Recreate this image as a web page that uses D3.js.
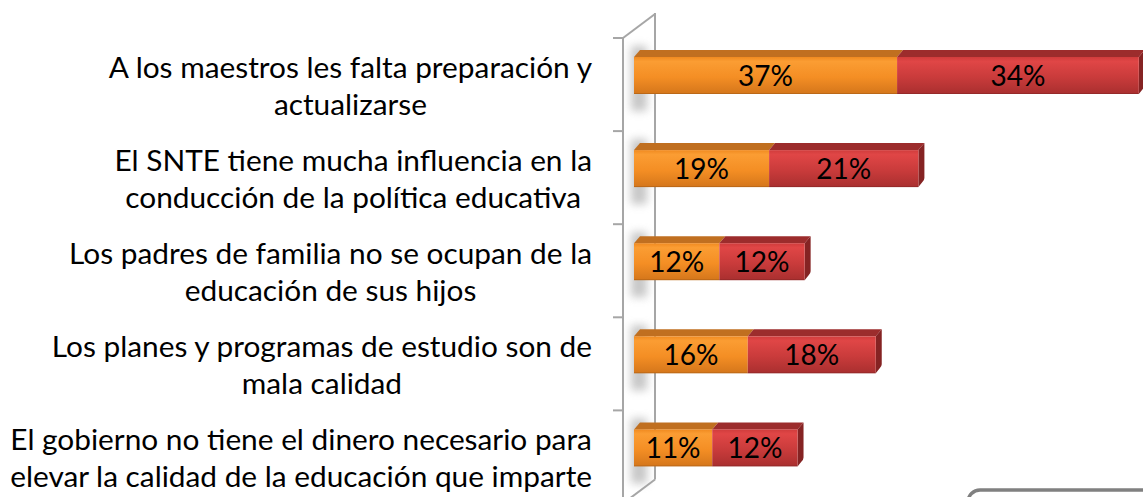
<!DOCTYPE html>
<html>
<head>
<meta charset="utf-8">
<script src="https://cdn.jsdelivr.net/npm/d3@7"></script>
<style>
  html, body { margin: 0; padding: 0; background: #fff; }
  svg { display: block; }
</style>
</head>
<body>
<svg id="chart" width="1143" height="497"></svg>
<script>
// ---- data ----
const categories = [
  "A los maestros les falta preparación y actualizarse",
  "El SNTE tiene mucha influencia en la conducción de la política educativa",
  "Los padres de familia no se ocupan de la educación de sus hijos",
  "Los planes y programas de estudio son de mala calidad",
  "El gobierno no tiene el dinero necesario para elevar la calidad de la educación que imparte"
];
const categoryLines = [
  ["A los maestros les falta preparación y", "actualizarse"],
  ["El SNTE tiene mucha influencia en la", "conducción de la política educativa"],
  ["Los padres de familia no se ocupan de la", "educación de sus hijos"],
  ["Los planes y programas de estudio son de", "mala calidad"],
  ["El gobierno no tiene el dinero necesario para", "elevar la calidad de la educación que imparte"]
];
const seriesNames = ["Serie 1", "Serie 2"];
const series1 = [37, 19, 12, 16, 11];
const series2 = [34, 21, 12, 18, 12];
const valueLabels1 = ["37%", "19%", "12%", "16%", "11%"];
const valueLabels2 = ["34%", "21%", "12%", "18%", "12%"];

// ---- layout ----
const svg = d3.select("#chart");
const FONT = "Lato, 'Open Sans', sans-serif";
const x = d3.scaleLinear().domain([0, 80]).range([634, 634 + 80 * 7.11]);
const y = d3.scaleBand().domain(categories).range([38, 503.5]).padding(0);
const barOffset = 19, barH = 37, dX = 6, dY = 7;
const wallFront = 623, wallBack = 655, wallDX = 32, wallDY = 24;

const defs = svg.append("defs");
function grad(id, stops) {
  const g = defs.append("linearGradient").attr("id", id)
    .attr("x1", 0).attr("y1", 0).attr("x2", 0).attr("y2", 1);
  stops.forEach(s => g.append("stop").attr("offset", s[0]).attr("stop-color", s[1]));
}
grad("gOrange", [[0, "#F08A20"], [0.12, "#FB9D33"], [0.55, "#F48E24"], [1, "#D4761B"]]);
grad("gRed", [[0, "#D03C3C"], [0.12, "#E04646"], [0.55, "#C93B3B"], [1, "#A92F2F"]]);
const blur = defs.append("filter").attr("id", "blur").attr("x", "-50%").attr("y", "-50%")
  .attr("width", "200%").attr("height", "200%");
blur.append("feGaussianBlur").attr("stdDeviation", 4);

// ---- wall ----
const wall = svg.append("g");
// bar shadows on wall
wall.selectAll("rect.sh").data(categories).join("rect")
  .attr("x", wallFront + 8).attr("width", 16)
  .attr("y", d => y(d) + 8).attr("height", barH + 28)
  .attr("fill", "#9a9a9a").attr("opacity", 0.55)
  .attr("filter", "url(#blur)");
wall.append("rect").attr("x", 0).attr("y", 0).attr("width", wallFront - 1).attr("height", 497).attr("fill", "#fff");

const lineCol = "#a6a6a6";
wall.append("line").attr("x1", wallFront).attr("x2", wallFront).attr("y1", y.range()[0] - 1).attr("y2", 520)
  .attr("stroke", lineCol).attr("stroke-width", 2);
wall.append("line").attr("x1", wallBack).attr("x2", wallBack).attr("y1", y.range()[0] - wallDY - 1).attr("y2", y.range()[1] - wallDY)
  .attr("stroke", lineCol).attr("stroke-width", 2);
wall.append("line").attr("x1", wallFront).attr("y1", y.range()[0]).attr("x2", wallBack).attr("y2", y.range()[0] - wallDY)
  .attr("stroke", lineCol).attr("stroke-width", 2);
wall.append("line").attr("x1", wallFront).attr("y1", y.range()[1]).attr("x2", wallBack).attr("y2", y.range()[1] - wallDY)
  .attr("stroke", lineCol).attr("stroke-width", 2);
const tickYs = categories.map(d => y(d)).concat([y.range()[1]]);
wall.selectAll("line.tick").data(tickYs).join("line")
  .attr("x1", wallFront - 10).attr("x2", wallFront).attr("y1", d => d).attr("y2", d => d)
  .attr("stroke", lineCol).attr("stroke-width", 2);

// ---- bars ----
const stacks = categories.map((c, i) => ({
  cat: c,
  segs: [
    { x0: 0, x1: series1[i], fill: "url(#gOrange)", top: "#C06F20", side: "#B0641C", label: valueLabels1[i] },
    { x0: series1[i], x1: series1[i] + series2[i], fill: "url(#gRed)", top: "#9C2C2C", side: "#852323", label: valueLabels2[i] }
  ]
}));
const bars = svg.append("g").selectAll("g").data(stacks).join("g");
bars.each(function (d) {
  const g = d3.select(this);
  const yt = y(d.cat) + barOffset, yb = yt + barH;
  d.segs.forEach((s, k) => {
    const a = x(s.x0), b = x(s.x1);
    g.append("path")
      .attr("d", `M${a},${yt} L${a + dX},${yt - dY} L${b + dX},${yt - dY} L${b},${yt} Z`)
      .attr("fill", s.top);
    if (k === d.segs.length - 1) {
      g.append("path")
        .attr("d", `M${b},${yt} L${b + dX},${yt - dY} L${b + dX},${yb - dY - 2} Q${b + dX},${yb - dY} ${b + dX - 2},${yb - dY + 2} L${b},${yb} Z`)
        .attr("fill", s.side);
    }
    g.append("rect").attr("x", a).attr("y", yt).attr("width", b - a).attr("height", barH)
      .attr("fill", s.fill);
  });
  // bottom edge shading
  g.append("line").attr("x1", x(0)).attr("x2", x(d.segs[1].x1)).attr("y1", yb - 0.5).attr("y2", yb - 0.5)
    .attr("stroke", "#000").attr("stroke-opacity", 0.12);
  d.segs.forEach(s => {
    g.append("text").attr("x", (x(s.x0) + x(s.x1)) / 2).attr("y", yt + barH / 2 + 10)
      .attr("text-anchor", "middle").attr("font-family", FONT).attr("font-size", 28)
      .attr("fill", "#000").text(s.label);
  });
});

// ---- category labels ----
const labelRight = 592;
const measure = svg.append("text").attr("font-family", FONT).attr("font-size", 100).attr("visibility", "hidden");
measure.text("elevar la calidad de la educación que imparte");
const w100 = measure.node().getComputedTextLength();
const fontSize = 100 * 582 / w100;
measure.attr("font-size", fontSize);
const labels = svg.append("g").selectAll("g").data(categories).join("g");
labels.each(function (d, i) {
  const lines = categoryLines[i];
  const widths = lines.map(l => { measure.text(l); return measure.node().getComputedTextLength(); });
  const maxW = d3.max(widths);
  const cx = labelRight - maxW / 2;
  const c = y(d) + y.bandwidth() / 2;
  d3.select(this).selectAll("text").data(lines).join("text")
    .attr("x", cx).attr("y", (l, j) => c - 6.5 + j * 37)
    .attr("text-anchor", "middle").attr("font-family", FONT).attr("font-size", fontSize)
    .attr("fill", "#000").text(l => l);
});
measure.remove();

// ---- legend (partially visible) ----
svg.append("rect").attr("x", 968).attr("y", 490).attr("width", 220).attr("height", 60)
  .attr("rx", 12).attr("fill", "#fff").attr("stroke", "#808080").attr("stroke-width", 3.5);
</script>
</body>
</html>
